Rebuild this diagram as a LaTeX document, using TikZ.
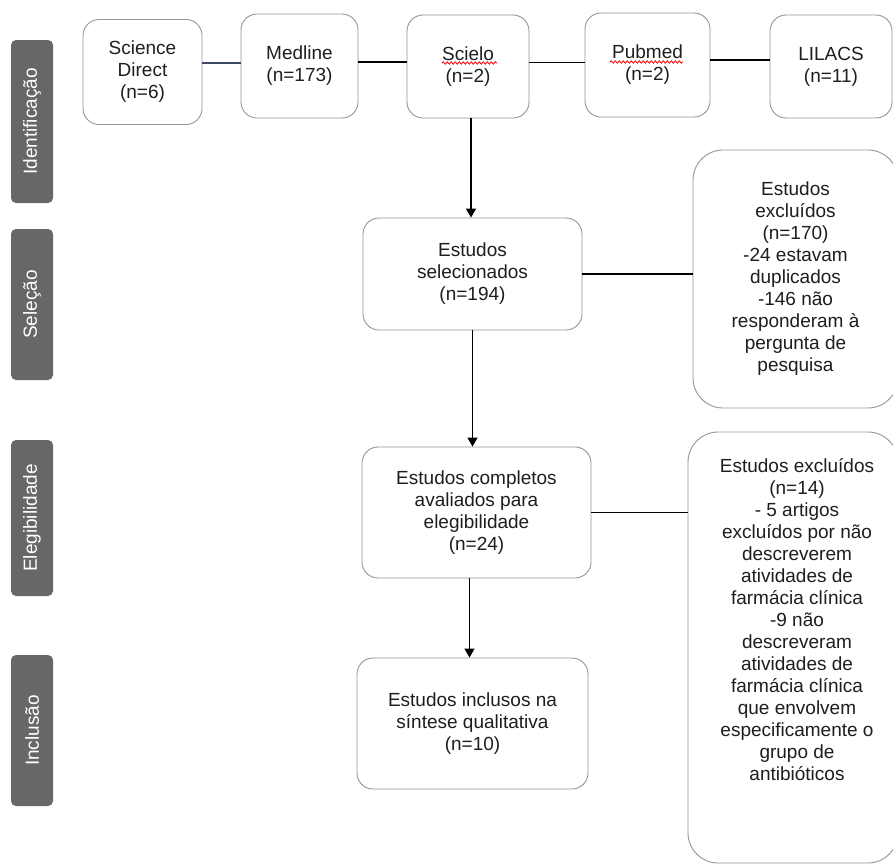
\documentclass[tikz,border=0pt]{standalone}
\usepackage{fontspec}
\setmainfont{Liberation Sans}
\usetikzlibrary{arrows.meta, decorations.pathmorphing}

\definecolor{boxline}{RGB}{150,150,150}
\definecolor{tagfill}{RGB}{104,102,104}
\definecolor{inktext}{RGB}{30,30,30}
\definecolor{slateline}{RGB}{60,72,100}

\begin{document}
\begin{tikzpicture}[x=1pt, y=-1pt,
    every node/.style={font=\fontsize{19}{22}\selectfont, text=inktext},
    box/.style={draw=boxline, line width=0.9pt, rounded corners=16pt, align=center, inner sep=0pt},
    bigbox/.style={box, rounded corners=30pt},
    tag/.style={fill=tagfill, rounded corners=5pt, rotate=90, text=white, minimum height=42, inner sep=0pt},
    link/.style={line width=1.3pt, black},
    flow/.style={link, -{Triangle[width=10pt, length=9pt]}},
    squiggle/.style={red, line width=0.8pt, decorate, decoration={snake, amplitude=1.2pt, segment length=4pt}}]
     \useasboundingbox[fill=white] (0,0) rectangle (893,865);

     % fases
     \path (32,121.5) node[tag, minimum width=163] (lid) {Identificação};
     \path (32,304.5) node[tag, minimum width=151] (lsel) {Seleção};
     \path (32,518) node[tag, minimum width=156] (leleg) {Elegibilidade};
     \path (32,730.5) node[tag, minimum width=151] (lincl) {Inclusão};

     % bases de dados
     \path (142.5,72) node[box, minimum width=119, minimum height=105] (sd) {Science\\Direct\\(n=6)};
     \path (299.5,66) node[box, minimum width=117, minimum height=104] (med) {Medline\\(n=173)};
     \path (468,66.5) node[box, minimum width=122, minimum height=103] (sci) {Scielo\\(n=2)};
     \path (647.5,65) node[box, minimum width=125, minimum height=104] (pub) {Pubmed\\(n=2)};
     \path (831,66.5) node[box, minimum width=122, minimum height=103] (lil) {LILACS\\(n=11)};

     \draw[squiggle] (442,63) -- (497,63);
     \draw[squiggle] (610,62) -- (683,62);

     % fluxo central
     \path (472.5,274) node[box, minimum width=219, minimum height=112] (sel) {Estudos\\selecionados\\(n=194)};
     \path (476.5,512.5) node[box, minimum width=229, minimum height=131] (comp) {Estudos completos\\avaliados para\\elegibilidade\\(n=24)};
     \path (472.5,723.5) node[box, minimum width=231, minimum height=131] (incl) {Estudos inclusos na\\síntese qualitativa\\(n=10)};

     % excluidos
     \path (795.5,279) node[bigbox, minimum width=205, minimum height=258] (exc1) {Estudos\\excluídos\\(n=170)\\-24 estavam\\duplicados\\-146 não\\responderam à\\pergunta de\\pesquisa};
     \path (793,647.5) node[bigbox, minimum width=210, minimum height=431] (exc2) {};
     \path (exc2.north) ++(4,27) node[anchor=north, align=center, inner sep=0pt] (exc2txt) {Estudos excluídos\\(n=14)\\- 5 artigos\\excluídos por não\\descreverem\\atividades de\\farmácia clínica\\-9 não\\descreveram\\atividades de\\farmácia clínica\\que envolvem\\especificamente o\\grupo de\\antibióticos};

     % ligacoes
     \draw[link, slateline] ([yshift=9pt]sd.east) -- ([yshift=9pt]sd.east -| med.west);
     \draw[link] ([yshift=4pt]med.east) -- ([yshift=4pt]med.east -| sci.west);
     \draw[link] ([yshift=4pt]sci.east) -- ([yshift=4pt]sci.east -| pub.west);
     \draw[link] ([yshift=5pt]pub.east) -- ([yshift=5pt]pub.east -| lil.west);

     \draw[flow] ([xshift=3pt]sci.south) -- ([xshift=3pt]sci.south |- sel.north);
     \draw[flow] (sel.south) -- (sel.south |- comp.north);
     \draw[flow] ([xshift=-3pt]incl.north |- comp.south) -- ([xshift=-3pt]incl.north);

     \draw[link] (sel.east) -- (sel.east -| exc1.west);
     \draw[link] (comp.east) -- (comp.east -| exc2.west);
   \end{tikzpicture}
\end{document}
